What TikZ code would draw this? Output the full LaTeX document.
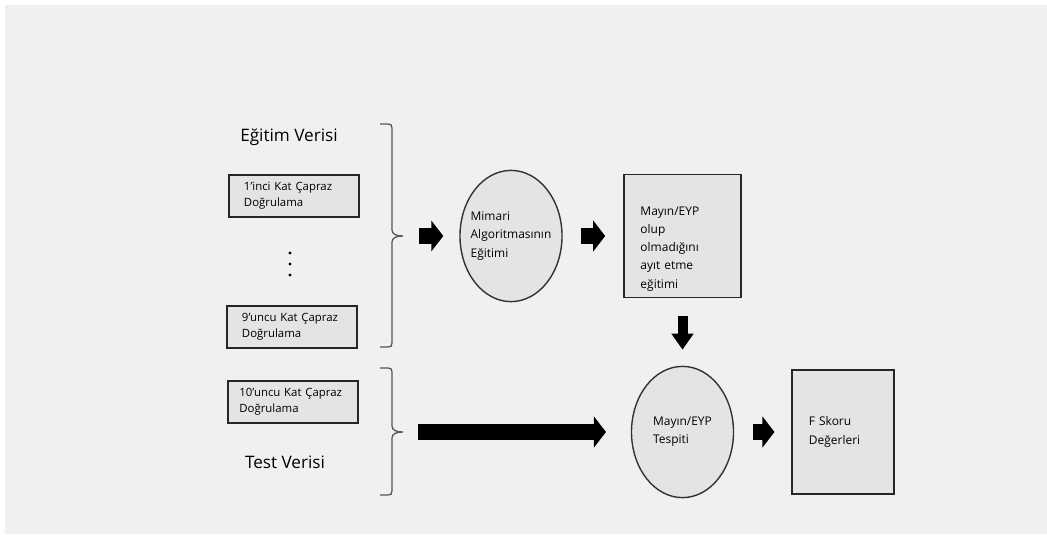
\documentclass[tikz,border=0pt]{standalone}
\usepackage{fontspec}
\setmainfont{Open Sans}
\usepackage{tikz}
\usetikzlibrary{shapes.geometric, arrows.meta}
\definecolor{panel}{HTML}{F0F0F0}
\definecolor{boxfill}{HTML}{E6E3E3}
\definecolor{bracegray}{HTML}{555555}
\tikzset{x=0.025cm, y=-0.025cm, % one unit is one pixel of the figure
fold/.style={draw=black!85, line width=1.9pt, fill=boxfill, minimum width=3.25cm, minimum height=1.05cm, inner xsep=0pt, text width=2.5cm, align=left, font=\fontsize{8.1}{11.5}\selectfont}, % the cross validation folds
proc/.style={ellipse, draw=black!80, line width=1pt, fill=boxfill, minimum width=2.55cm, minimum height=3.28cm, inner xsep=-10pt, align=left, font=\fontsize{8.5}{13}\selectfont}, % the oval steps
stage/.style={draw=black!85, line width=1pt, fill=boxfill, inner xsep=0pt, align=left, font=\fontsize{8.5}{13}\selectfont}, % the square steps
title/.style={font=\fontsize{12.2}{15}\selectfont}, % data set names
curly/.style={draw=bracegray, line width=0.9pt}, % the braces
fat/.style={-{Triangle[length=0.3cm, width=0.76cm]}, line width=0.38cm}, % big flat arrows
}

\begin{document}
\begin{tikzpicture}
\useasboundingbox (0,0) rectangle (1047,534);
\fill[panel] (5,5) rectangle (1047,534);

\node[title] (egitim) at (289,137) {Eğitim Verisi};
\node[fold] (kat1) at (294,196) {1'inci Kat Çapraz\\Doğrulama};
\foreach \y in {253,264,275}
  \fill (290,\y) circle (1.1pt);
\node[fold] (kat9) at (292,327) {9'uncu Kat Çapraz\\Doğrulama};
\node[fold, text width=2.68cm] (kat10) at (293,402) {10'uncu Kat Çapraz\\Doğrulama};
\node[title] (test) at (285,462) {Test Verisi};

% braces
\coordinate (tipA) at (403,236);
\coordinate (tipB) at (403,432);
\draw[curly] (380,124) -- (388,124) .. controls (391,124) and (392,125) .. (392,128) -- (392,230)
  .. controls (392,234) and (396,236) .. (tipA) .. controls (396,236) and (392,238) .. (392,242)
  -- (392,343) .. controls (392,346) and (391,347) .. (388,347) -- (380,347);
\draw[curly] (380,368) -- (388,368) .. controls (391,368) and (392,369) .. (392,372) -- (392,426)
  .. controls (392,430) and (396,432) .. (tipB) .. controls (396,432) and (392,434) .. (392,438)
  -- (392,491) .. controls (392,494) and (391,495) .. (388,495) -- (380,495);

\node[proc] (mimari) at (511,236) {Mimari\\Algoritmasının\\Eğitimi};
\node[stage, minimum width=2.93cm, minimum height=3.08cm, text width=2.1cm] (ayirt) at (682.5,236)
  {\rule{0pt}{0.85cm}Mayın/EYP\\olup\\olmadığını\\ayıt etme\\eğitimi};
\node[proc] (tespit) at (682.5,432) {Mayın/EYP\\Tespiti};
\node[stage, minimum width=2.55cm, minimum height=3.1cm, text width=1.7cm] (fskor) at (843,432)
  {F Skoru\\Değerleri};

\draw[fat, shorten <=0.4cm, shorten >=0.4cm] (tipA) -- (mimari);
\draw[fat, shorten <=0.45cm, shorten >=0.45cm] (mimari) -- (ayirt);
\draw[-{Triangle[length=0.4cm, width=0.53cm]}, line width=0.25cm, shorten <=0.45cm, shorten >=0.4cm] (ayirt) -- (tespit);
\draw[fat, shorten <=0.38cm, shorten >=0.62cm] (tipB) -- (tespit);
\draw[fat, shorten <=0.48cm, shorten >=0.42cm] (tespit) -- (fskor);

\end{tikzpicture}
\end{document}
